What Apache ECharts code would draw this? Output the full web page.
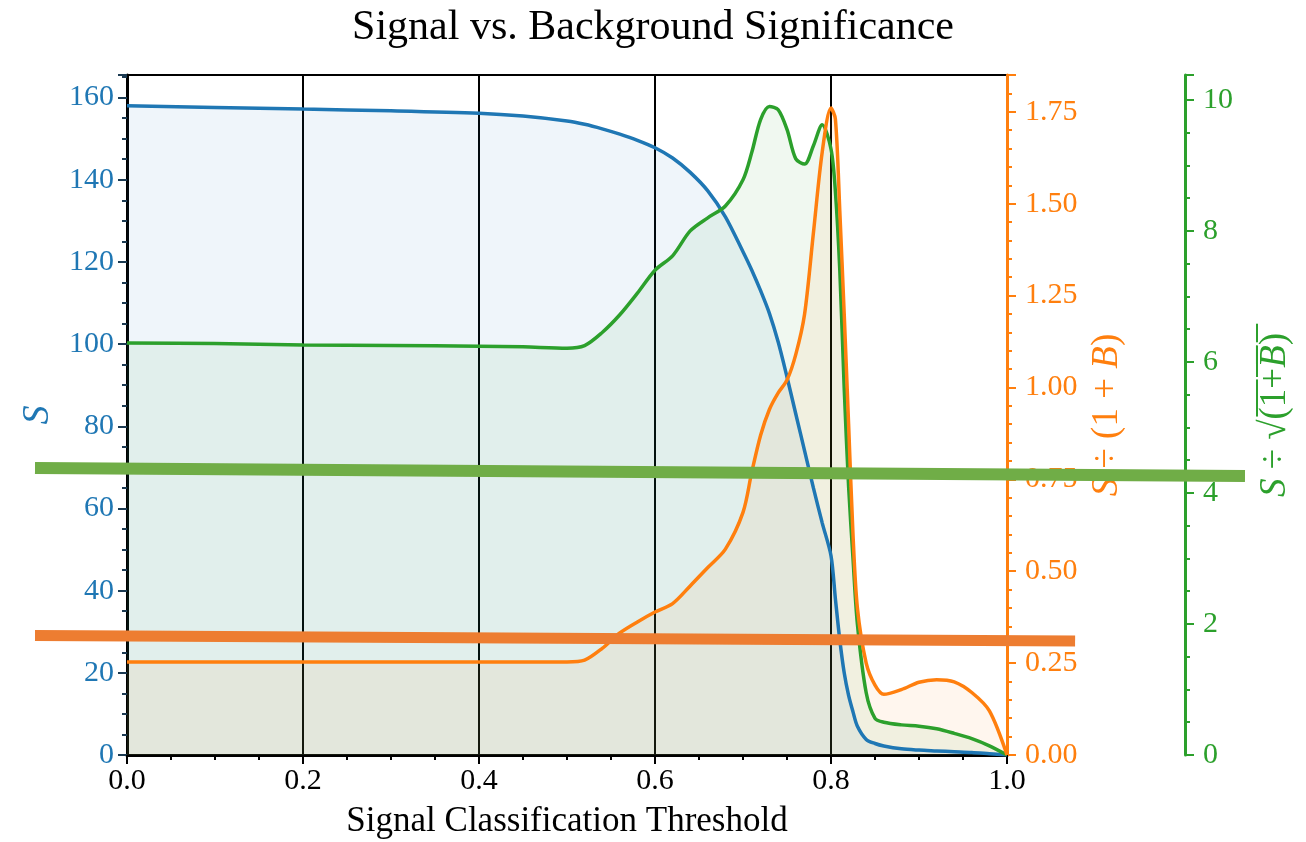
<!DOCTYPE html>
<html>
<head>
<meta charset="utf-8">
<title>Signal vs. Background Significance</title>
<script src="https://cdn.jsdelivr.net/npm/echarts@6/dist/echarts.min.js"></script>
<style>
  html, body { margin: 0; padding: 0; background: #ffffff; }
  #main { width: 1306px; height: 842px; }
</style>
</head>
<body>
<div id="main"></div>
<script>
// thresholds (x) shared by the three curves
var thresholds = [0, 0.1, 0.2, 0.3, 0.4, 0.45, 0.5, 0.52, 0.54, 0.56, 0.58, 0.6, 0.62, 0.64, 0.66, 0.68,
  0.7, 0.71, 0.72, 0.73, 0.74, 0.75, 0.76, 0.77, 0.78, 0.79, 0.8, 0.805, 0.81, 0.815, 0.82, 0.825,
  0.83, 0.84, 0.85, 0.86, 0.88, 0.9, 0.92, 0.94, 0.96, 0.98, 1.0];

// S
var signal = [158, 157.6, 157.2, 156.8, 156.2, 155.5, 154.3, 153.5, 152.4, 151.1, 149.6, 147.8, 145.3, 141.8, 137.3, 131,
  122.5, 118, 113, 107.5, 100.5, 92, 83, 74, 65, 56.5, 48.5, 38, 28, 20, 14.5, 10.5,
  7, 3.8, 2.8, 2.2, 1.5, 1.2, 1.0, 0.8, 0.6, 0.3, 0];

// S / (1+B)
var sigOverB = [0.253, 0.253, 0.253, 0.253, 0.253, 0.253, 0.253, 0.258, 0.29, 0.332, 0.362, 0.389, 0.412, 0.46, 0.51, 0.56,
  0.66, 0.77, 0.87, 0.94, 0.985, 1.02, 1.09, 1.2, 1.42, 1.64, 1.76, 1.73, 1.48, 1.2, 0.9, 0.6,
  0.4, 0.25, 0.19, 0.165, 0.178, 0.198, 0.205, 0.199, 0.17, 0.12, 0];

// S / sqrt(1+B)
var sigOverSqrtB = [6.29, 6.28, 6.26, 6.25, 6.24, 6.23, 6.21, 6.25, 6.45, 6.72, 7.05, 7.4, 7.62, 8.0, 8.2, 8.38,
  8.78, 9.2, 9.7, 9.9, 9.85, 9.55, 9.1, 9.02, 9.3, 9.62, 9.25, 8.6, 7.4, 5.6, 4.1, 3.0,
  2.0, 0.95, 0.56, 0.5, 0.46, 0.44, 0.4, 0.33, 0.25, 0.14, 0];

// hand-drawn marker lines: [threshold, value] end points (green on the S/sqrt scale, orange on the S/(1+B) scale)
var greenMark = [[-0.1045, 4.38], [1.27, 4.26]];
var orangeMark = [[-0.1045, 0.325], [1.077, 0.31]];

var xTicks = ['0.0', '0.2', '0.4', '0.6', '0.8', '1.0'];

function pairs(ys) {
  return thresholds.map(function (x, i) { return [x, ys[i]]; });
}

var serif = 'Liberation Serif';
var blue = '#1f77b4', orange = '#ff7f0e', green = '#2ca02c';

var myChart = echarts.init(document.getElementById('main'));
myChart.setOption({
  animation: false,
  title: {
    text: 'Signal vs. Background Significance',
    left: 'center',
    top: 2,
    textStyle: { fontFamily: serif, fontSize: 42, fontWeight: 'normal', color: '#000' }
  },
  grid: [
    { left: 127, right: 299, top: 75, bottom: 87, outerBoundsMode: 'none',
      show: true, borderColor: '#000', borderWidth: 2 },
    // wider overlay grid for the hand-drawn marks that run past the axes
    { left: 35, right: 61, top: 75, bottom: 87, outerBoundsMode: 'none', show: false }
  ],
  xAxis: [
    {
      type: 'value',
      min: 0, max: 1, interval: 0.2,
      name: 'Signal Classification Threshold',
      nameLocation: 'middle',
      nameGap: 49,
      nameTextStyle: { fontFamily: serif, fontSize: 35, color: '#000' },
      axisLine: { lineStyle: { color: '#000', width: 3 } },
      axisTick: { inside: false, length: 9, lineStyle: { color: '#000', width: 2 } },
      minorTick: { show: true, splitNumber: 4, length: 5, lineStyle: { color: '#000', width: 2 } },
      axisLabel: {
        margin: 11, fontFamily: serif, fontSize: 30, color: '#000',
        formatter: function (v) { return xTicks[Math.round(v / 0.2)]; }
      },
      splitLine: { show: true, lineStyle: { color: '#000', width: 2 } }
    },
    { type: 'value', gridIndex: 1, min: -0.1045, max: 1.27, show: false }
  ],
  yAxis: [
    {
      type: 'value', position: 'left',
      min: 0, max: 165.5, interval: 20,
      name: '{i|S}',
      nameLocation: 'middle', nameRotate: 90, nameGap: 70,
      nameTextStyle: { rich: { i: { fontFamily: serif, fontStyle: 'italic', fontSize: 38, color: blue } } },
      axisLine: { show: true, lineStyle: { color: '#000', width: 3 } },
      axisTick: { show: true, length: 9, lineStyle: { color: '#1b3a52', width: 2 } },
      minorTick: { show: true, splitNumber: 4, length: 5, lineStyle: { color: '#1b3a52', width: 2 } },
      axisLabel: { margin: 13, fontFamily: serif, fontSize: 30, color: blue, showMaxLabel: false },
      splitLine: { show: false }
    },
    {
      type: 'value', position: 'right',
      min: 0, max: 1.85, interval: 0.25,
      name: '{i|S} ÷ (1 + {i|B})',
      nameLocation: 'middle', nameRotate: 90, nameGap: 63,
      nameTextStyle: {
        fontFamily: serif, fontSize: 37, color: orange,
        rich: { i: { fontFamily: serif, fontStyle: 'italic', fontSize: 37, color: orange } }
      },
      axisLine: { show: true, lineStyle: { color: orange, width: 3 } },
      axisTick: { show: true, length: 9, lineStyle: { color: orange, width: 2 } },
      minorTick: { show: true, splitNumber: 5, length: 5, lineStyle: { color: orange, width: 2 } },
      axisLabel: {
        margin: 18, fontFamily: serif, fontSize: 30, color: orange, showMaxLabel: false,
        formatter: function (v) { return v.toFixed(2); }
      },
      splitLine: { show: false }
    },
    {
      type: 'value', position: 'right', offset: 178,
      min: 0, max: 10.38, interval: 2,
      name: '{i|S} ÷ √{n|(\u03051\u0305+\u0305}{i|B\u0305}{n|)\u0305}',
      nameLocation: 'middle', nameRotate: 90, nameGap: 72,
      nameTextStyle: {
        fontFamily: serif, fontSize: 37, color: green,
        rich: {
          i: { fontFamily: serif, fontStyle: 'italic', fontSize: 37, color: green },
          n: { fontFamily: serif, fontSize: 37, color: green }
        }
      },
      axisLine: { show: true, lineStyle: { color: green, width: 3 } },
      axisTick: { show: true, length: 9, lineStyle: { color: green, width: 2 } },
      minorTick: { show: true, splitNumber: 4, length: 5, lineStyle: { color: green, width: 2 } },
      axisLabel: { margin: 18, fontFamily: serif, fontSize: 30, color: green, showMaxLabel: false },
      splitLine: { show: false }
    },
    { type: 'value', gridIndex: 1, min: 0, max: 10.38, show: false },
    { type: 'value', gridIndex: 1, min: 0, max: 1.85, show: false }
  ],
  series: [
    {
      name: 'S', type: 'line', yAxisIndex: 0,
      data: pairs(signal), smooth: 0.3, symbol: 'none',
      lineStyle: { color: blue, width: 3.5 },
      areaStyle: { color: 'rgba(31,119,180,0.1)' }
    },
    {
      name: 'S/sqrt(1+B)', type: 'line', yAxisIndex: 2,
      data: pairs(sigOverSqrtB), smooth: 0.3, symbol: 'none',
      lineStyle: { color: green, width: 3.5 },
      areaStyle: { color: 'rgba(44,160,44,0.1)' }
    },
    {
      name: 'S/(1+B)', type: 'line', yAxisIndex: 1,
      data: pairs(sigOverB), smooth: 0.3, symbol: 'none',
      lineStyle: { color: orange, width: 3.5 },
      areaStyle: { color: 'rgba(255,127,14,0.1)' }
    },
    {
      name: 'green mark', type: 'line', xAxisIndex: 1, yAxisIndex: 3,
      data: greenMark, symbol: 'none', silent: true, z: 10,
      lineStyle: { color: '#70ad47', width: 12, cap: 'butt' }
    },
    {
      name: 'orange mark', type: 'line', xAxisIndex: 1, yAxisIndex: 4,
      data: orangeMark, symbol: 'none', silent: true, z: 10,
      lineStyle: { color: '#ed7d31', width: 11, cap: 'butt' }
    }
  ]
});
</script>
</body>
</html>
